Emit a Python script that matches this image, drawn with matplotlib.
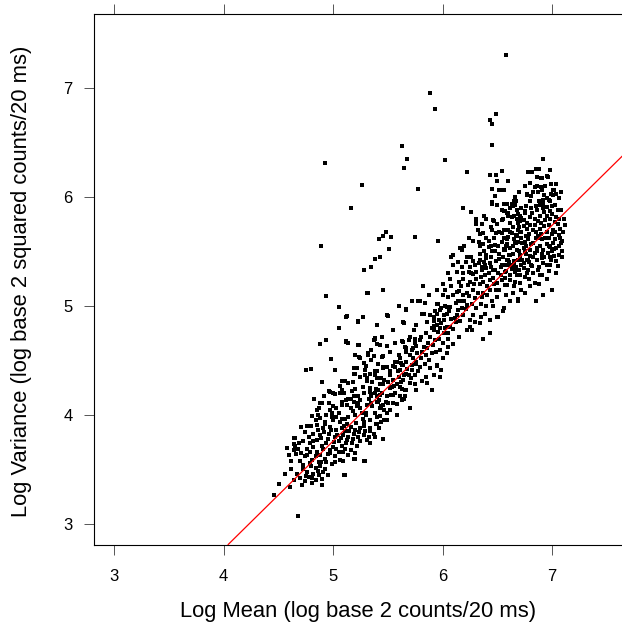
import numpy as np
import matplotlib
matplotlib.use("Agg")
import matplotlib.pyplot as plt

plt.rcParams['font.family'] = ['Liberation Sans', 'DejaVu Sans']

# fitted line (log variance vs log mean)
line_slope = 0.99
line_intercept = -1.19

x_ticks = [3, 4, 5, 6, 7]
y_ticks = [3, 4, 5, 6, 7]

# lower cluster, log mean around 4.5 - 5.4
lower = [
    (4.97, 4.21), (5.02, 4.19), (5.06, 4.20), (5.17, 4.22), (5.35, 4.19), (5.40, 4.17), (5.23, 4.17), (5.16, 4.15),
    (4.88, 4.11), (4.96, 4.11), (5.00, 4.08), (5.08, 4.12), (5.13, 4.09), (5.19, 4.12), (5.23, 4.11), (5.31, 4.09),
    (5.35, 4.11), (5.40, 4.12), (4.87, 4.06), (4.97, 4.05), (5.03, 4.06), (5.16, 4.06), (5.25, 4.06),
    (4.81, 3.99), (4.88, 3.97), (4.94, 4.00), (4.99, 4.02), (5.03, 3.98), (5.08, 3.96), (5.14, 3.98), (5.20, 4.00),
    (5.26, 4.02), (5.34, 3.95), (5.40, 3.98), (4.84, 3.95), (4.93, 3.94), (5.00, 3.95), (5.06, 3.94), (5.13, 3.92),
    (5.28, 3.94), (5.40, 3.92),
    (4.71, 3.89), (4.76, 3.90), (4.85, 3.91), (4.91, 3.88), (4.97, 3.89), (5.03, 3.86), (5.08, 3.88), (5.11, 3.85),
    (5.16, 3.89), (5.20, 3.86), (5.25, 3.88), (5.29, 3.85), (5.34, 3.88), (5.37, 3.83), (4.82, 3.83), (4.88, 3.82),
    (4.96, 3.83), (5.02, 3.80), (5.09, 3.82), (5.14, 3.80), (5.19, 3.83), (5.23, 3.80), (5.28, 3.82),
    (4.64, 3.79), (4.65, 3.72), (4.73, 3.76), (4.79, 3.74), (4.85, 3.77), (4.90, 3.72), (4.94, 3.74), (5.00, 3.71),
    (5.05, 3.76), (5.08, 3.72), (5.13, 3.77), (5.17, 3.74), (5.22, 3.72), (5.25, 3.76), (5.31, 3.77), (5.34, 3.74),
    (4.68, 3.69), (4.76, 3.69), (4.82, 3.71), (4.91, 3.69), (4.97, 3.68), (5.03, 3.69), (5.11, 3.69), (5.16, 3.68),
    (4.64, 3.68), (4.71, 3.65), (4.79, 3.66), (4.84, 3.62), (4.88, 3.63), (4.93, 3.60), (4.97, 3.65), (5.02, 3.62),
    (5.06, 3.59), (5.09, 3.66), (5.14, 3.63), (5.19, 3.60), (5.20, 3.65), (4.74, 3.62), (4.81, 3.59), (4.87, 3.57),
    (4.94, 3.57), (5.02, 3.57), (4.62, 3.58), (5.29, 3.58), (5.20, 3.60),
    (4.73, 3.54), (4.79, 3.56), (4.84, 3.51), (4.88, 3.53), (4.93, 3.50), (4.76, 3.48), (4.82, 3.46), (4.87, 3.45),
    (4.91, 3.48), (4.81, 3.42), (4.73, 3.50),
    (4.78, 3.43), (4.84, 3.40), (4.90, 3.41), (4.74, 3.39), (4.81, 3.38), (4.90, 3.36), (4.72, 3.36), (4.61, 3.34),
    (4.51, 3.37), (5.11, 3.45), (4.46, 3.27), (4.68, 3.07), (5.10, 3.45), (5.28, 3.58), (4.65, 3.79), (4.64, 3.73),
    (4.75, 4.41), (4.80, 4.42), (5.02, 4.41), (5.08, 4.31), (5.14, 4.29), (5.19, 4.38), (5.22, 4.43), (5.25, 4.35),
    (5.29, 4.37), (5.31, 4.31), (5.34, 4.38), (5.38, 4.40), (5.40, 4.34), (5.41, 4.47), (5.46, 4.43), (5.49, 4.44),
    (5.52, 4.37), (5.57, 4.44), (5.58, 4.49), (5.61, 4.41), (5.64, 4.46), (5.67, 4.38), (5.72, 4.41), (5.75, 4.37),
    (5.76, 4.47), (5.43, 4.28), (5.47, 4.32), (5.54, 4.26), (5.58, 4.28), (5.63, 4.24), (5.67, 4.23), (5.76, 4.23),
    (5.34, 4.21), (5.38, 4.20), (5.43, 4.18), (5.49, 4.17), (5.55, 4.18), (5.66, 4.17), (5.41, 4.12), (5.46, 4.09),
    (5.50, 4.11), (5.58, 4.00), (5.70, 4.06), (5.38, 4.02), (5.43, 4.06), (5.47, 4.05), (5.44, 3.94), (5.49, 3.95),
    (5.39, 3.92), (5.34, 3.85), (5.38, 3.80), (5.46, 3.78), (4.96, 4.22), (5.00, 4.20), (4.90, 4.11), (4.85, 4.05),
    (4.78, 3.80), (4.82, 3.76), (4.86, 3.86), (4.89, 3.79), (4.92, 3.84), (4.95, 3.78), (4.98, 3.86), (5.01, 3.75),
    (5.04, 3.82), (5.07, 3.79), (5.10, 3.90), (5.12, 3.74), (5.15, 3.85), (5.18, 3.78), (5.21, 3.93), (5.24, 3.84),
    (5.27, 3.96), (4.70, 3.58), (4.76, 3.63), (4.80, 3.53), (4.85, 3.66), (4.89, 3.57), (4.95, 3.64), (4.99, 3.55),
    (5.05, 3.66), (5.09, 3.58), (4.67, 3.46), (4.70, 3.42), (4.75, 3.44), (4.86, 3.49), (4.95, 3.45), (4.93, 3.92),
    (4.99, 3.98), (5.05, 4.02), (5.11, 3.96), (5.18, 4.04), (5.22, 4.08), (5.30, 4.00), (5.28, 3.90), (5.33, 3.80),
    (4.86, 4.00), (4.80, 3.90), (4.74, 3.84), (4.69, 3.74), (4.66, 3.64), (4.60, 3.63), (4.58, 3.70), (4.56, 3.46),
    (4.62, 3.50), (4.64, 3.40), (5.14, 4.15), (5.20, 4.24), (5.27, 4.26), (5.06, 4.27), (4.92, 4.17), (4.83, 4.15),
    (4.90, 4.30), (5.30, 4.45), (5.36, 4.30),
]

# middle band, log mean around 5.0 - 6.3
middle = [
    (5.32, 5.12), (5.46, 5.15), (5.79, 5.05), (5.84, 5.03), (5.96, 5.02), (5.99, 4.98), (6.04, 4.99), (5.12, 4.90),
    (5.23, 4.86), (5.27, 4.90), (5.40, 4.83), (5.50, 4.91), (5.67, 4.97), (5.81, 4.93), (5.89, 4.92), (5.95, 4.93),
    (6.01, 4.92), (5.64, 4.85), (5.76, 4.83), (5.86, 4.85), (5.92, 4.86), (5.95, 4.83), (5.99, 4.84), (6.04, 4.81),
    (5.92, 4.78), (5.96, 4.76), (6.01, 4.75), (5.89, 4.72), (5.85, 4.75), (6.05, 4.70), (5.93, 4.69), (5.12, 4.67),
    (5.14, 4.66), (5.23, 4.64), (5.37, 4.69), (5.38, 4.71), (5.43, 4.64), (5.57, 4.66), (5.63, 4.68), (5.69, 4.69),
    (5.75, 4.66), (5.79, 4.69), (5.67, 4.61), (5.72, 4.60), (5.76, 4.63), (5.81, 4.58), (5.86, 4.61), (5.90, 4.57),
    (5.98, 4.60), (6.04, 4.57), (5.20, 4.55), (5.25, 4.52), (5.35, 4.60), (5.37, 4.54), (5.46, 4.54), (5.52, 4.58),
    (5.57, 4.49), (5.61, 4.52), (5.63, 4.46), (5.67, 4.49), (5.72, 4.46), (5.76, 4.49), (5.79, 4.44), (5.84, 4.47),
    (5.89, 4.43), (5.95, 4.46), (5.99, 4.41), (5.92, 4.37), (5.98, 4.35), (5.81, 4.31), (5.86, 4.29), (5.90, 4.23),
    (5.76, 4.23), (5.70, 4.06), (5.19, 4.43), (5.20, 4.38), (5.29, 4.41), (5.31, 4.34), (5.38, 4.37), (5.40, 4.40),
    (5.46, 4.44), (5.44, 4.34), (5.52, 4.40), (5.55, 4.32), (5.60, 4.35), (5.64, 4.32), (5.69, 4.37), (5.61, 4.26),
    (5.66, 4.23), (5.70, 4.29), (5.52, 4.25), (5.57, 4.20), (5.61, 4.17), (5.46, 4.28), (5.41, 4.23), (5.34, 4.25),
    (5.35, 4.17), (5.28, 4.20), (5.19, 4.17), (5.11, 4.31), (5.08, 4.23), (5.12, 4.14), (5.25, 4.14), (5.44, 4.08),
    (5.49, 4.02), (5.43, 3.99), (5.08, 4.09), (5.16, 4.06), (5.23, 4.08), (5.63, 4.14), (5.55, 4.11),
    (5.43, 5.45), (5.38, 5.43), (5.35, 5.36), (5.28, 5.33), (4.94, 5.09), (5.05, 4.99), (5.31, 5.12), (5.13, 4.91),
    (5.27, 4.90), (5.05, 4.80), (5.23, 4.85), (5.40, 4.83), (5.50, 4.91), (5.67, 4.96), (5.78, 5.05), (5.65, 4.84),
    (5.83, 4.93), (4.88, 4.65), (4.94, 4.69), (5.12, 4.68), (5.24, 4.64), (5.38, 4.70), (5.40, 4.65), (4.98, 4.51),
    (5.20, 4.55), (5.24, 4.53), (5.32, 4.57), (5.32, 4.55), (5.45, 4.53), (5.22, 4.43), (5.29, 4.41), (5.49, 4.63),
    (5.64, 4.67), (5.70, 4.72), (5.75, 4.70), (5.67, 4.58), (5.73, 4.61), (5.49, 4.92),
    (5.30, 4.02), (5.33, 4.15), (5.36, 4.08), (5.39, 4.24), (5.42, 4.14), (5.45, 4.20), (5.48, 4.12), (5.50, 4.30),
    (5.53, 4.18), (5.56, 4.27), (5.59, 4.40), (5.62, 4.30), (5.65, 4.37), (5.68, 4.42), (5.71, 4.34), (5.73, 4.52),
    (5.78, 4.40), (5.80, 4.52), (5.83, 4.62), (5.85, 4.55), (5.88, 4.50), (5.91, 4.64), (5.94, 4.58), (5.97, 4.70),
    (6.00, 4.66), (6.02, 4.80), (6.05, 4.75), (6.08, 4.88), (6.10, 4.79), (6.13, 4.92), (6.16, 4.86), (6.18, 5.05),
    (6.21, 4.97), (6.24, 5.09), (6.27, 5.02), (6.29, 5.20), (6.32, 5.12), (6.34, 5.20), (6.36, 5.08), (6.39, 5.28),
    (6.41, 5.10), (6.44, 5.36), (6.47, 5.20), (6.49, 5.15), (6.53, 5.36), (5.55, 4.45), (5.60, 4.55), (5.62, 4.48),
    (5.66, 4.62), (5.70, 4.55), (5.74, 4.78), (5.77, 4.57), (5.80, 4.72), (5.87, 4.66), (5.90, 4.80), (5.93, 4.95),
    (5.98, 4.80), (6.02, 5.00), (6.06, 4.95), (6.10, 5.10), (6.14, 5.05), (6.17, 5.18), (6.22, 5.12), (6.26, 5.30),
    (6.30, 5.38), (6.34, 5.55), (6.38, 5.40), (6.42, 5.60), (6.45, 5.70), (6.32, 5.70), (6.28, 5.60), (6.24, 5.62),
    (6.20, 5.55), (6.14, 5.40), (6.05, 5.30), (6.08, 5.45), (6.00, 5.20), (5.95, 5.15), (5.88, 5.10), (5.82, 5.18),
    (5.72, 5.05), (5.60, 5.00), (5.55, 4.78), (5.45, 4.72), (5.35, 4.50), (5.28, 4.48), (5.18, 4.30), (5.10, 4.20),
    (5.95, 4.45), (6.00, 4.52), (6.05, 4.62), (6.10, 4.65), (6.15, 4.72), (6.22, 4.78), (6.30, 4.85), (6.35, 4.90),
    (5.85, 4.35), (5.75, 4.28), (5.65, 4.15), (5.58, 4.10), (5.52, 4.05), (5.47, 3.95), (5.42, 3.88),
]

# upper cluster, log mean around 5.9 - 7.1
upper = [
    (6.19, 5.90), (6.26, 5.86), (6.45, 5.95), (6.50, 5.93), (6.56, 5.94), (6.63, 5.94), (6.67, 5.96), (6.54, 5.88),
    (6.59, 5.85), (6.65, 5.83), (6.71, 5.83), (6.75, 5.85), (6.31, 5.80), (6.31, 5.75), (6.46, 5.79), (6.37, 5.67),
    (6.34, 5.66), (6.49, 5.67), (6.54, 5.67), (6.62, 5.68), (6.69, 5.70), (6.74, 5.73), (6.77, 5.76), (5.96, 5.60),
    (6.33, 5.59), (6.37, 5.57), (6.42, 5.54), (6.48, 5.56), (6.54, 5.59), (6.59, 5.57), (6.65, 5.61), (6.69, 5.59),
    (6.75, 5.59), (6.78, 5.64), (6.16, 5.53), (6.18, 5.51), (6.10, 5.47), (6.34, 5.48), (6.40, 5.47), (6.45, 5.50),
    (6.52, 5.48), (6.57, 5.51), (6.62, 5.47), (6.68, 5.51), (6.71, 5.47), (6.75, 5.50), (6.10, 5.38), (6.18, 5.36),
    (6.21, 5.40), (6.28, 5.41), (6.34, 5.42), (6.25, 5.36), (6.39, 5.38), (6.43, 5.39), (6.49, 5.41), (6.54, 5.38),
    (6.60, 5.42), (6.65, 5.38), (6.69, 5.42), (6.74, 5.39), (6.78, 5.42), (6.13, 5.31), (6.19, 5.30), (6.24, 5.31),
    (6.31, 5.31), (6.36, 5.33), (6.42, 5.30), (6.46, 5.33), (6.51, 5.30), (6.57, 5.31), (6.62, 5.28), (6.66, 5.31),
    (6.71, 5.28), (6.77, 5.30), (6.02, 5.15), (6.08, 5.18), (6.15, 5.22), (6.19, 5.25), (6.25, 5.22), (6.31, 5.25),
    (6.37, 5.22), (6.43, 5.24), (6.50, 5.21), (6.54, 5.24), (6.59, 5.19), (6.66, 5.22), (6.69, 5.06), (6.56, 4.98),
    (6.51, 4.90), (6.34, 4.84), (6.25, 4.87), (6.13, 5.13), (6.19, 5.10), (6.28, 5.15), (6.37, 5.12), (6.43, 5.15),
    (6.50, 5.08), (6.05, 5.08), (5.95, 5.02), (5.98, 4.96), (6.07, 4.99), (6.14, 4.96), (6.22, 5.01), (6.31, 4.98),
    (6.39, 4.93), (6.46, 5.00), (5.92, 4.90), (6.01, 4.87), (6.11, 4.89), (6.19, 4.92), (6.43, 4.87), (5.92, 4.82),
    (6.07, 4.81), (6.25, 4.81),
    (6.54, 6.24), (6.95, 6.19), (6.91, 6.17), (6.80, 6.13), (6.86, 6.10), (6.94, 6.10), (6.54, 6.06), (6.77, 6.03),
    (6.83, 6.05), (6.91, 6.06), (7.01, 6.06), (6.99, 6.03), (6.59, 5.94), (6.65, 5.96), (6.66, 5.93), (6.56, 5.87),
    (6.60, 5.83), (6.68, 5.80), (6.75, 5.87), (6.81, 5.90), (6.86, 5.88), (6.92, 5.94), (6.95, 5.91), (6.98, 5.87),
    (6.92, 5.97), (6.89, 5.93), (6.54, 5.79), (6.62, 5.76), (6.69, 5.76), (6.74, 5.79), (6.80, 5.82), (6.84, 5.80),
    (6.89, 5.83), (6.94, 5.79), (6.98, 5.80), (7.03, 5.77), (7.07, 5.71), (7.04, 5.82), (6.56, 5.70), (6.63, 5.67),
    (6.71, 5.68), (6.77, 5.71), (6.83, 5.70), (6.89, 5.71), (6.95, 5.68), (7.01, 5.70), (7.06, 5.65), (7.09, 5.60),
    (7.03, 5.61), (6.97, 5.62), (6.91, 5.61), (6.85, 5.62), (6.78, 5.61), (6.72, 5.62), (6.66, 5.59), (6.59, 5.61),
    (7.04, 5.53), (6.98, 5.54), (6.92, 5.51), (6.86, 5.53), (6.80, 5.51), (6.74, 5.53), (6.68, 5.51), (6.62, 5.53),
    (6.56, 5.51), (7.06, 5.47), (6.98, 5.45), (6.91, 5.44), (6.83, 5.45), (6.77, 5.42), (6.71, 5.44), (6.65, 5.41),
    (6.59, 5.42), (7.04, 5.41), (6.95, 5.38), (6.88, 5.36), (6.81, 5.38), (6.74, 5.35), (6.66, 5.33), (6.89, 5.28),
    (6.83, 5.30), (6.75, 5.27), (6.68, 5.28), (6.62, 5.24), (6.71, 5.21), (6.65, 5.18), (6.84, 5.21), (6.57, 5.19),
    (6.82, 5.85), (6.87, 5.78), (6.93, 5.86), (6.97, 5.74), (7.00, 5.84), (7.05, 5.75), (6.79, 5.66), (6.84, 5.74),
    (6.90, 5.66), (6.93, 5.73), (7.00, 5.66), (7.07, 5.62), (6.81, 5.57), (6.87, 5.64), (6.95, 5.57), (7.01, 5.58),
    (7.06, 5.55), (6.76, 5.48), (6.84, 5.49), (6.89, 5.55), (6.96, 5.49), (7.02, 5.46), (7.09, 5.50), (6.79, 5.40),
    (6.86, 5.42), (6.92, 5.39), (6.99, 5.42), (7.05, 5.37), (6.73, 5.58), (6.77, 5.76), (6.70, 5.72), (6.67, 5.65),
    (6.64, 5.55), (6.61, 5.47), (6.58, 5.38), (6.63, 5.34), (6.70, 5.33), (6.97, 5.32), (6.91, 5.28), (6.79, 5.25),
    (7.10, 5.68), (7.11, 5.80), (7.08, 5.88), (7.03, 5.93), (6.98, 5.96), (7.12, 5.74),
    (6.35, 5.27), (6.40, 5.35), (6.44, 5.45), (6.48, 5.33), (6.52, 5.43), (6.56, 5.52), (6.41, 5.18), (6.46, 5.26),
    (6.52, 5.15), (6.57, 5.26), (6.33, 5.39), (6.28, 5.29), (6.23, 5.19), (6.30, 5.07), (6.35, 5.02), (6.20, 5.05),
    (6.15, 5.14), (6.12, 5.03), (6.26, 5.45), (6.38, 5.50), (6.47, 5.62), (6.51, 5.55), (6.60, 5.63), (6.40, 5.62),
    (6.22, 5.45), (6.07, 5.25), (6.00, 5.10), (6.04, 4.93), (5.97, 4.87), (6.12, 4.85), (6.28, 4.92), (6.18, 4.98),
    (6.69, 5.05), (6.50, 4.90), (6.43, 4.75), (6.37, 4.70), (6.55, 4.95), (6.92, 5.10), (6.85, 5.05), (7.00, 5.15),
    (6.75, 5.12), (6.62, 5.05),
    (6.55, 5.45), (6.58, 5.55), (6.61, 5.40), (6.64, 5.48), (6.67, 5.58), (6.70, 5.50), (6.73, 5.42), (6.76, 5.55),
    (6.80, 5.46), (6.83, 5.58), (6.86, 5.50), (6.88, 5.62), (6.91, 5.48), (6.94, 5.62), (6.97, 5.55), (7.00, 5.50),
    (7.03, 5.68), (7.06, 5.80), (6.95, 5.83), (6.90, 5.76), (6.85, 5.68), (6.80, 5.74), (6.76, 5.64), (6.72, 5.68),
    (6.68, 5.64), (6.64, 5.72), (6.60, 5.70), (6.56, 5.62), (6.52, 5.68), (6.48, 5.50), (6.44, 5.55), (6.40, 5.44),
    (6.36, 5.36), (6.53, 5.28), (6.58, 5.32), (6.62, 5.38), (6.67, 5.36), (6.72, 5.38), (6.78, 5.33), (6.82, 5.37),
    (6.87, 5.33), (6.93, 5.45), (6.98, 5.38), (7.02, 5.52), (7.08, 5.58), (7.05, 5.88), (7.00, 5.92), (6.92, 5.90),
    (6.88, 5.96), (6.85, 5.92), (6.80, 5.96), (6.76, 5.92), (6.72, 5.90), (6.68, 5.88), (6.62, 5.90), (6.55, 5.80),
    (6.50, 5.75), (6.44, 5.72), (6.40, 5.80), (6.36, 5.75), (6.95, 5.25), (6.88, 5.20), (6.80, 5.18), (6.72, 5.15),
    (6.64, 5.12), (6.58, 5.10), (6.45, 5.05), (6.40, 5.00), (6.27, 4.78), (7.04, 5.30), (7.09, 5.45), (6.99, 6.12),
    (7.04, 6.12), (7.08, 6.05), (6.98, 6.25), (6.86, 6.18), (6.75, 6.10), (6.70, 6.05), (6.66, 6.00),
]

# points above the main band
outliers = [
    (6.58, 7.30), (5.89, 6.95), (5.93, 6.81), (6.49, 6.76), (6.43, 6.71), (6.45, 6.67), (6.45, 6.48), (5.63, 6.47),
    (5.68, 6.35), (5.65, 6.27), (6.02, 6.34), (4.93, 6.31), (6.22, 6.23), (5.26, 6.11), (5.78, 6.07), (5.16, 5.90),
    (6.43, 6.20), (6.49, 6.20), (6.54, 6.24), (6.50, 6.15), (6.60, 6.15), (6.45, 6.07), (6.52, 6.06), (6.56, 6.06),
    (6.48, 6.01), (6.45, 5.94), (6.50, 5.93), (6.56, 5.94), (6.58, 5.94), (6.64, 5.92), (6.67, 5.96), (6.38, 5.83),
    (6.31, 5.79), (6.47, 5.78), (6.57, 5.87), (6.60, 5.85), (6.63, 5.82), (6.69, 5.84), (6.72, 5.81), (6.71, 5.78),
    (4.89, 5.55), (5.42, 5.61), (5.46, 5.64), (5.48, 5.68), (5.53, 5.63), (5.75, 5.63), (5.51, 5.52),
    (6.92, 6.35), (6.78, 6.23), (6.82, 6.23), (6.85, 6.26), (6.88, 6.26), (6.96, 6.18), (6.90, 6.17), (6.84, 6.09),
    (6.90, 6.09), (6.60, 6.15), (7.02, 6.06), (7.04, 6.03), (7.06, 5.99), (7.01, 6.02), (6.77, 6.02), (6.81, 6.01),
    (6.87, 6.05), (6.93, 6.02), (6.95, 5.99), (6.97, 5.97),
]

pts = np.array(lower + middle + upper + outliers)

fig = plt.figure(figsize=(6.22, 6.33), dpi=100)
ax = fig.add_axes([94 / 622, 1 - 544.5 / 633, 1 - 94 / 622, (544.5 - 13.5) / 633])

ax.scatter(pts[:, 0], pts[:, 1], marker='s', s=6.5, c='black', linewidths=0, zorder=2)
ax.axline((0, line_intercept), slope=line_slope, color='red', lw=0.9, zorder=3)

ax.set_xlim(2.817, 7.639)
ax.set_ylim(2.812, 7.683)
ax.set_xticks(x_ticks)
ax.set_yticks(y_ticks)
ax.spines['right'].set_visible(False)
for s in ['left', 'top', 'bottom']:
    ax.spines[s].set_linewidth(0.8)
ax.tick_params(axis='x', direction='out', length=7.2, width=0.7, color='#555555',
               labelsize=12, pad=10.5, top=True)
ax.tick_params(axis='y', direction='out', length=7.5, width=0.7, color='#555555',
               labelsize=12, pad=8)

fig.text(358 / 622, 1 - 612 / 633, "Log Mean (log base 2 counts/20 ms)",
         ha='center', va='center', fontsize=15.8)
fig.text(22 / 622, 1 - 281 / 633, "Log Variance (log base 2 squared counts/20 ms)",
         ha='center', va='center', rotation=90, fontsize=15.8)

fig.savefig("out.png", dpi=100)
